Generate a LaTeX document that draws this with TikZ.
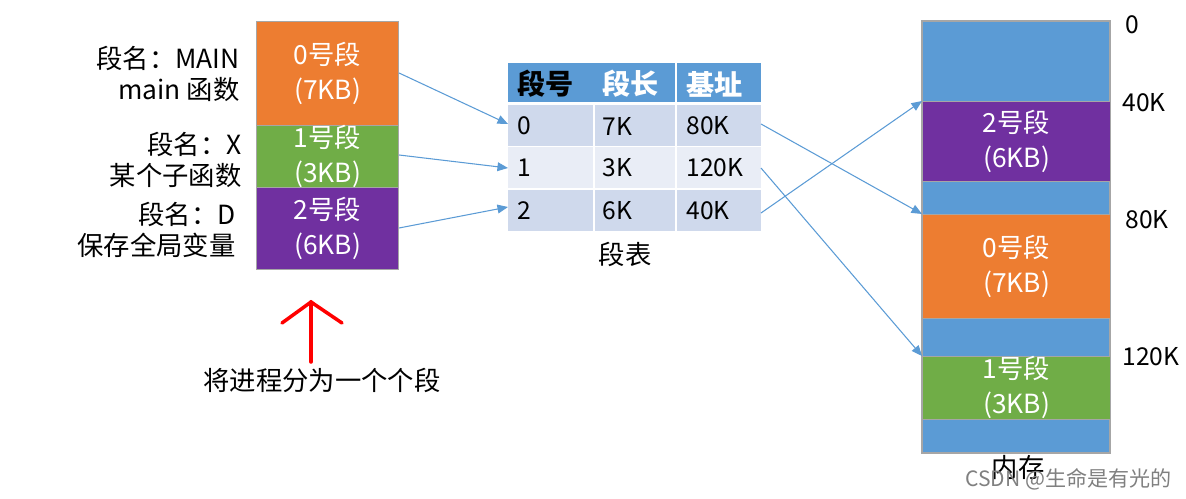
\documentclass[tikz,border=0pt]{standalone}
\usepackage{fontspec}
\setmainfont{Noto Sans CJK SC}
\usetikzlibrary{arrows.meta}
\definecolor{mblue}{HTML}{5B9BD5}
\definecolor{morange}{HTML}{ED7D31}
\definecolor{mgreen}{HTML}{70AD47}
\definecolor{mpurple}{HTML}{7030A0}
\definecolor{rowA}{HTML}{CFD9EC}
\definecolor{rowB}{HTML}{E9EDF6}
\definecolor{lnk}{HTML}{5B9BD5}
\tikzset{
 blk/.style={draw=gray!70, line width=0.6pt, text=white, font=\fontsize{15}{20}\selectfont, align=center, inner sep=0pt},
 lbl/.style={font=\fontsize{15}{18}\selectfont, align=right, anchor=east, inner sep=0pt},
 cell/.style={font=\fontsize{14}{17}\selectfont, anchor=west, inner sep=0pt},
 hcell/.style={font=\bfseries\fontsize{16}{20}\selectfont, anchor=west, inner sep=0pt},
 lnkarr/.style={draw=lnk, line width=0.6pt, -{Triangle[length=6pt,width=5pt]}},
 mlbl/.style={font=\fontsize{14}{17}\selectfont, anchor=west, inner sep=0pt},
}
\begin{document}
\begin{tikzpicture}[x=0.02cm,y=-0.02cm]
\useasboundingbox (0,0) rectangle (1186,499);
% left segments
\node[blk, fill=morange, minimum width=142*0.02cm, minimum height=104*0.02cm, anchor=north west] (s0) at (256,21) {0号段\\(7KB)};
\node[blk, fill=mgreen, minimum width=142*0.02cm, minimum height=62*0.02cm, anchor=north west] (s1) at (256,125) {1号段\\(3KB)};
\node[blk, fill=mpurple, minimum width=142*0.02cm, minimum height=82*0.02cm, anchor=north west] (s2) at (256,187) {2号段\\(6KB)};
\node[lbl] (l0) at (240,74) {段名：MAIN\\main 函数};
\node[lbl] (l1) at (242,160) {段名：X\\某个子函数};
\node[lbl] (l2) at (236,230) {段名：D\\保存全局变量};
% red arrow
\coordinate (rb) at (311,362);
\coordinate (rt) at (311,302);
\draw[red, line width=2pt, line cap=round] (rb) -- (rt);
\draw[red, line width=2pt, line cap=round, line join=miter] (282,323) -- (rt) -- (342,323);
\node[font=\fontsize{15}{18}\selectfont] (rtxt) at (322,380) {将进程分为一个个段};
% table
\fill[mblue] (508,63) rectangle (761,102);
\fill[rowA] (508,105) rectangle (761,146);
\fill[rowB] (508,146) rectangle (761,189);
\fill[rowA] (508,189) rectangle (761,231);
\draw[white, line width=1pt] (508,104) -- (761,104) (508,146.5) -- (761,146.5) (508,189) -- (761,189) (676,63) -- (676,231) (594,105) -- (594,231);
\node[hcell] (h0) at (517,84) {段号};
\node[hcell, text=white] (h1) at (602,84) {段长};
\node[hcell, text=white] (h2) at (686,84) {基址};
\node[cell] (r0) at (517,126) {0};
\node[cell] at (602,126) {7K};
\node[cell] at (686,126) {80K};
\node[cell] (r1) at (517,168) {1};
\node[cell] at (602,168) {3K};
\node[cell] at (686,168) {120K};
\node[cell] (r2) at (517,211) {2};
\node[cell] at (602,211) {6K};
\node[cell] at (686,211) {40K};
\node[font=\fontsize{15}{18}\selectfont] (tt) at (625,254) {段表};
\coordinate (t0) at (508,124); \coordinate (t1) at (508,168); \coordinate (t2) at (508,207);
\coordinate (o0) at (761,124); \coordinate (o1) at (761,168); \coordinate (o2) at (761,213);
% memory
\fill[mblue] (922,21) rectangle (1110,453);
\draw[gray!70, line width=0.6pt] (922,21) rectangle (1110,453);
\node[blk, fill=mpurple, minimum width=188*0.02cm, minimum height=80*0.02cm, anchor=north west] (m2) at (922,101) {2号段\\(6KB)};
\node[blk, fill=morange, minimum width=188*0.02cm, minimum height=104*0.02cm, anchor=north west] (m0) at (922,214) {0号段\\(7KB)};
\node[blk, fill=mgreen, minimum width=188*0.02cm, minimum height=60*0.02cm, anchor=north west] (m1) at (922,356) {1号段\\(3KB)};
\node[mlbl] at (1125,25) {0};
\node[mlbl] at (1122,103) {40K};
\node[mlbl] at (1125,220) {80K};
\node[mlbl] at (1122,357) {120K};
\node[font=\fontsize{15}{18}\selectfont] (mem) at (1018,468) {内存};
\node[font=\fontsize{12}{14}\selectfont, text=gray, anchor=east, inner sep=0pt] (wm) at (1172,479) {CSDN @生命是有光的};
% links
\draw[lnkarr] (s0.east |- 0,73) -- (t0);
\draw[lnkarr] (s1.east |- 0,155) -- (t1);
\draw[lnkarr] (s2.east |- 0,228) -- (t2);
\draw[lnkarr] (o0) -- (m0.north west);
\draw[lnkarr] (o1) -- (m1.north west);
\draw[lnkarr] (o2) -- (m2.north west);
\end{tikzpicture}
\end{document}
